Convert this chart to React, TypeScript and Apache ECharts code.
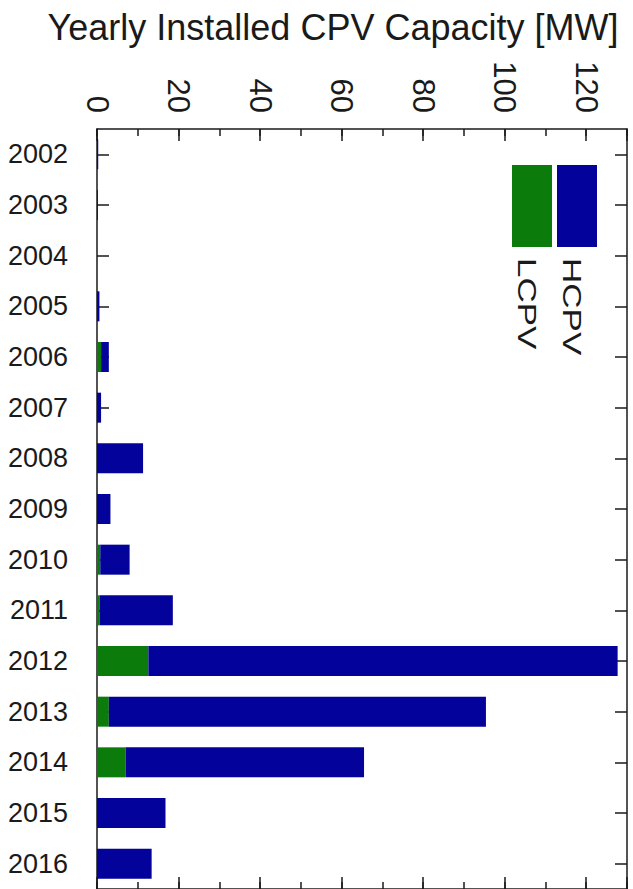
import React, { useEffect, useRef } from "react";
import * as echarts from "echarts";

const years = ["2002", "2003", "2004", "2005", "2006", "2007", "2008", "2009", "2010", "2011", "2012", "2013", "2014", "2015", "2016"];
const lcpv = [0, 0, 0, 0, 1.0, 0, 0, 0, 0.8, 0.6, 12.6, 2.9, 7.0, 0, 0];
const hcpv = [0.3, 0.2, 0, 0.6, 1.9, 1.0, 11.3, 3.3, 7.2, 18.0, 115.1, 92.5, 58.5, 16.8, 13.4];
const seriesNames = ["LCPV", "HCPV"];
const titleText = "Yearly Installed CPV Capacity [MW]";

const BLUE = "#03039c";
const GREEN = "#0b7b0b";
const INK = "#1a1a1a";
const FONT = "'Liberation Sans', Arial, sans-serif";

export default function App() {
  const ref = useRef<HTMLDivElement>(null);
  useEffect(() => {
    if (!ref.current) return;
    const chart = echarts.init(ref.current, null, { renderer: "svg" });
    const line = { color: INK, width: 1.5 };
    const gridPos = { left: 97, top: 129, width: 530, height: 761 };
    const option: any = {
      animation: false,
      backgroundColor: "#ffffff",
      textStyle: { fontFamily: FONT },
      grid: [
        { ...gridPos, containLabel: false },
        { ...gridPos, containLabel: false },
      ],
      xAxis: [
        {
          type: "value", gridIndex: 0, position: "top", min: 0, max: 130, interval: 20,
          axisLine: { show: true, onZero: false, lineStyle: line },
          axisTick: { show: true, inside: true, length: 12, lineStyle: line },
          axisLabel: {
            rotate: 90, fontSize: 31, margin: 16, color: INK, fontFamily: FONT,
            formatter: (v: number) => (v > 120 ? "" : String(v)),
          },
          splitLine: { show: false },
        },
        {
          type: "value", gridIndex: 0, position: "bottom", min: 0, max: 130, interval: 20,
          axisLine: { show: true, onZero: false, lineStyle: line },
          axisTick: { show: true, inside: true, length: 12, lineStyle: line },
          axisLabel: { show: false },
          splitLine: { show: false },
        },
        {
          type: "value", gridIndex: 1, position: "top", min: 0, max: 130, interval: 10,
          axisLine: { show: false, onZero: false },
          axisTick: { show: true, inside: true, length: 7, lineStyle: line },
          axisLabel: { show: false },
          splitLine: { show: false },
        },
        {
          type: "value", gridIndex: 1, position: "bottom", min: 0, max: 130, interval: 10,
          axisLine: { show: false, onZero: false },
          axisTick: { show: true, inside: true, length: 7, lineStyle: line },
          axisLabel: { show: false },
          splitLine: { show: false },
        },
      ],
      yAxis: [
        {
          type: "category", gridIndex: 0, position: "left", data: years, inverse: true,
          axisLine: { show: true, onZero: false, lineStyle: line },
          axisTick: { show: true, inside: true, alignWithLabel: true, length: 12, lineStyle: line },
          axisLabel: { fontSize: 27, margin: 29, color: INK, fontFamily: FONT },
          splitLine: { show: false },
        },
        {
          type: "category", gridIndex: 0, position: "right", data: years, inverse: true,
          axisLine: { show: true, onZero: false, lineStyle: line },
          axisTick: { show: true, inside: true, alignWithLabel: true, length: 12, lineStyle: line },
          axisLabel: { show: false },
          splitLine: { show: false },
        },
        {
          type: "value", gridIndex: 1, min: 0, max: 1, show: false,
          axisLine: { onZero: false },
        },
      ],
      series: [
        {
          name: seriesNames[0], type: "bar", stack: "cap", xAxisIndex: 0, yAxisIndex: 0,
          data: lcpv, barWidth: 30, itemStyle: { color: GREEN },
        },
        {
          name: seriesNames[1], type: "bar", stack: "cap", xAxisIndex: 0, yAxisIndex: 0,
          data: hcpv, barWidth: 30, itemStyle: { color: BLUE },
        },
      ],
      graphic: [
        {
          type: "text", x: 333, y: 27,
          style: { text: titleText, fontSize: 36, fontFamily: FONT, fill: INK, align: "center", verticalAlign: "middle" },
        },
        { type: "rect", shape: { x: 512, y: 165, width: 40, height: 82 }, style: { fill: GREEN } },
        { type: "rect", shape: { x: 557, y: 165, width: 40, height: 82 }, style: { fill: BLUE } },
        {
          type: "text", x: 572, y: 258, rotation: -Math.PI / 2, scaleX: 1.4,
          style: { text: seriesNames[1], fontSize: 25, fontFamily: FONT, fill: INK, align: "left", verticalAlign: "middle" },
        },
        {
          type: "text", x: 527, y: 258, rotation: -Math.PI / 2, scaleX: 1.4,
          style: { text: seriesNames[0], fontSize: 25, fontFamily: FONT, fill: INK, align: "left", verticalAlign: "middle" },
        },
      ],
    };
    chart.setOption(option);
    return () => chart.dispose();
  }, []);
  return (
    <div
      ref={ref}
      style={{ position: "absolute", left: 0, top: 0, width: 633, height: 889, background: "#fff" }}
    />
  );
}
